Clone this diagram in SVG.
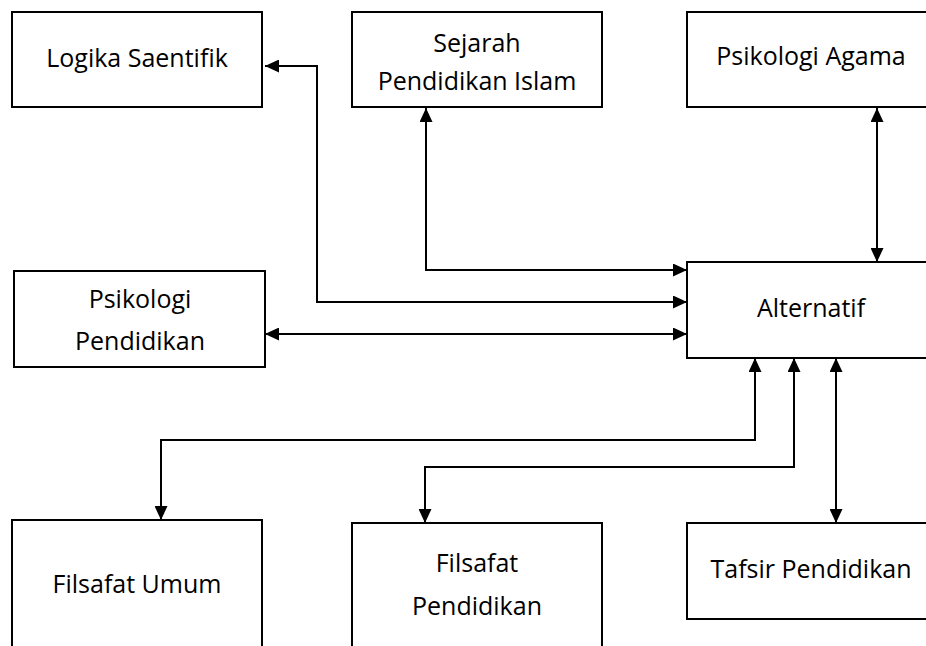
<svg xmlns="http://www.w3.org/2000/svg" width="926" height="646" viewBox="0 0 926 646">
<style>
.box{fill:#fff;stroke:#000;stroke-width:2}
.t{font-family:"Open Sans","Liberation Sans",sans-serif;font-size:25px;fill:#000;text-anchor:middle}
.c{fill:none;stroke:#000;stroke-width:2}
</style>
<defs>
<marker id="ah" viewBox="0 0 14 13" refX="14" refY="6.5" markerWidth="14" markerHeight="13" markerUnits="userSpaceOnUse" orient="auto-start-reverse">
<path d="M0,0 L14,6.5 L0,13 z" fill="#000"/>
</marker>
</defs>
<rect width="926" height="646" fill="#fff"/>
<g id="connectors">
<path class="c" d="M687,302 H317 V66 H265" marker-start="url(#ah)" marker-end="url(#ah)"/>
<path class="c" d="M687,270 H426 V108" marker-start="url(#ah)" marker-end="url(#ah)"/>
<path class="c" d="M687,334 H265" marker-start="url(#ah)" marker-end="url(#ah)"/>
<path class="c" d="M877,262 V108" marker-start="url(#ah)" marker-end="url(#ah)"/>
<path class="c" d="M755,358 V440 H161 V520" marker-start="url(#ah)" marker-end="url(#ah)"/>
<path class="c" d="M794,358 V467 H425 V523" marker-start="url(#ah)" marker-end="url(#ah)"/>
<path class="c" d="M836,358 V523" marker-start="url(#ah)" marker-end="url(#ah)"/>
</g>
<g id="logika"><rect class="box" x="12" y="12" width="250" height="95"/><text class="t" x="137" y="67">Logika Saentifik</text></g>
<g id="sejarah"><rect class="box" x="352" y="12" width="250" height="95"/><text class="t" x="477" y="52">Sejarah</text><text class="t" x="477" y="90">Pendidikan Islam</text></g>
<g id="psiagama"><rect class="box" x="687" y="12" width="250" height="95"/><text class="t" x="811" y="65">Psikologi Agama</text></g>
<g id="psipend"><rect class="box" x="14" y="271" width="251" height="96"/><text class="t" x="140" y="308">Psikologi</text><text class="t" x="140" y="350">Pendidikan</text></g>
<g id="alternatif"><rect class="box" x="687" y="262" width="250" height="96"/><text class="t" x="811" y="317">Alternatif</text></g>
<g id="filumum"><rect class="box" x="12" y="520" width="250" height="140"/><text class="t" x="137" y="593">Filsafat Umum</text></g>
<g id="filpend"><rect class="box" x="352" y="523" width="250" height="140"/><text class="t" x="477" y="572">Filsafat</text><text class="t" x="477" y="615">Pendidikan</text></g>
<g id="tafsir"><rect class="box" x="687" y="523" width="250" height="96"/><text class="t" x="811" y="578">Tafsir Pendidikan</text></g>
</svg>
